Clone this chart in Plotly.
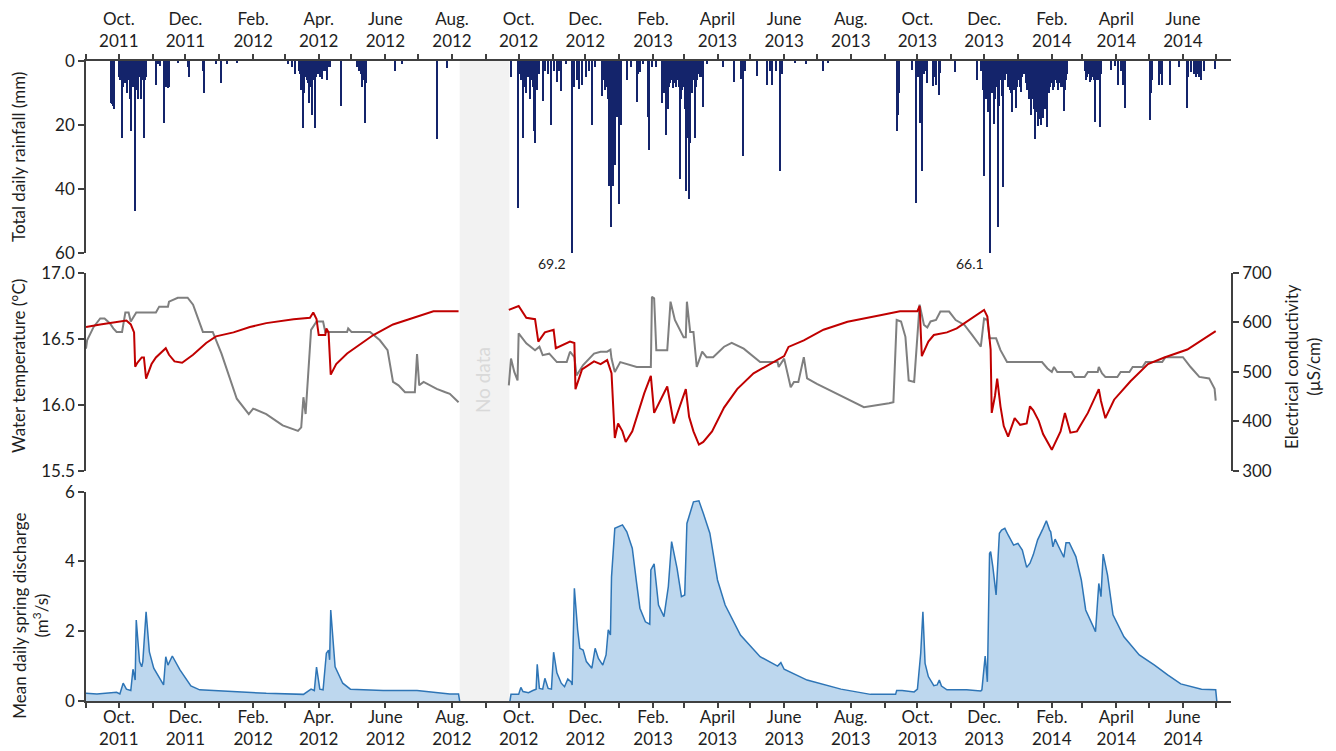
import plotly.graph_objects as go

# ---------------- data ----------------
rain_dates = [
    "2011-09-24","2011-09-25","2011-09-26","2011-09-27",
    "2011-10-01","2011-10-02","2011-10-04","2011-10-05","2011-10-07","2011-10-09","2011-10-11","2011-10-12","2011-10-14","2011-10-16","2011-10-18","2011-10-19","2011-10-21","2011-10-23","2011-10-24","2011-10-26",
    "2011-10-03","2011-10-06","2011-10-08","2011-10-10","2011-10-13","2011-10-15","2011-10-17","2011-10-20","2011-10-22","2011-10-25",
    "2011-11-04","2011-11-06","2011-11-08","2011-11-11","2011-11-13","2011-11-15","2011-11-16","2011-11-24",
    "2011-12-03","2011-12-04","2011-12-17","2011-12-18","2011-12-29",
    "2012-01-03","2012-01-08","2012-01-17",
    "2012-03-04","2012-03-08","2012-03-10","2012-03-14","2012-03-16","2012-03-18","2012-03-19","2012-03-21","2012-03-23","2012-03-25","2012-03-26","2012-03-28","2012-03-29","2012-03-31",
    "2012-03-15","2012-03-17","2012-03-20","2012-03-22","2012-03-24","2012-03-27","2012-03-30",
    "2012-04-02","2012-04-04","2012-04-06","2012-04-07","2012-04-09","2012-04-11","2012-04-21",
    "2012-04-01","2012-04-03","2012-04-05","2012-04-08","2012-04-10",
    "2012-05-06","2012-05-08","2012-05-10","2012-05-11","2012-05-12","2012-05-13","2012-05-14",
    "2012-06-10","2012-06-16","2012-07-18","2012-07-27",
    "2012-09-24","2012-09-30",
    "2012-10-01","2012-10-03","2012-10-05","2012-10-06","2012-10-08","2012-10-10","2012-10-11","2012-10-13","2012-10-15","2012-10-16","2012-10-18","2012-10-20","2012-10-23","2012-10-25","2012-10-28","2012-10-31",
    "2012-10-02","2012-10-04","2012-10-07","2012-10-09","2012-10-12","2012-10-14","2012-10-17",
    "2012-11-02","2012-11-05","2012-11-07","2012-11-09","2012-11-13","2012-11-19","2012-11-21","2012-11-23","2012-11-25","2012-11-28",
    "2012-12-02","2012-12-04","2012-12-07","2012-12-10","2012-12-16","2012-12-17","2012-12-19","2012-12-20","2012-12-22","2012-12-23","2012-12-24","2012-12-25","2012-12-26","2012-12-27","2012-12-28","2012-12-30","2012-12-31",
    "2012-12-18","2012-12-21","2012-12-29",
    "2013-01-01","2013-01-02","2013-01-03","2013-01-08","2013-01-12","2013-01-17","2013-01-18","2013-01-20","2013-01-23","2013-01-27","2013-01-28","2013-01-31",
    "2013-02-04","2013-02-09","2013-02-10","2013-02-11","2013-02-13","2013-02-14","2013-02-15","2013-02-16","2013-02-19","2013-02-21","2013-02-22","2013-02-26","2013-02-27",
    "2013-02-12","2013-02-17","2013-02-18","2013-02-20","2013-02-23","2013-02-24","2013-02-25","2013-02-28",
    "2013-03-02","2013-03-03","2013-03-04","2013-03-05","2013-03-06","2013-03-07","2013-03-09","2013-03-11","2013-03-13","2013-03-14","2013-03-16","2013-03-19","2013-03-22",
    "2013-03-01","2013-03-08","2013-03-10","2013-03-12","2013-03-15","2013-03-17","2013-03-18",
    "2013-04-06","2013-04-16","2013-04-23","2013-04-24","2013-04-26",
    "2013-05-07","2013-05-16","2013-05-19","2013-05-21","2013-05-25","2013-05-28","2013-05-30",
    "2013-06-11","2013-06-21","2013-07-07","2013-07-11",
    "2013-09-12","2013-09-13","2013-09-14","2013-09-26","2013-09-30",
    "2013-10-01","2013-10-02","2013-10-03","2013-10-04","2013-10-05","2013-10-07","2013-10-09","2013-10-10","2013-10-15","2013-10-16","2013-10-18","2013-10-21","2013-10-22",
    "2013-11-04","2013-11-25","2013-11-28","2013-11-30",
    "2013-12-01","2013-12-03","2013-12-05","2013-12-06","2013-12-08","2013-12-10","2013-12-11","2013-12-13","2013-12-14","2013-12-15","2013-12-17","2013-12-18","2013-12-20","2013-12-21","2013-12-25","2013-12-27","2013-12-30",
    "2013-12-02","2013-12-04","2013-12-07","2013-12-09","2013-12-12","2013-12-16","2013-12-19","2013-12-22","2013-12-23","2013-12-24","2013-12-26","2013-12-28","2013-12-29","2013-12-31",
    "2014-01-01","2014-01-04","2014-01-06","2014-01-10","2014-01-11","2014-01-13","2014-01-14","2014-01-15","2014-01-17","2014-01-18","2014-01-19","2014-01-20","2014-01-22","2014-01-23","2014-01-24","2014-01-25","2014-01-26","2014-01-28","2014-01-29",
    "2014-01-02","2014-01-03","2014-01-05","2014-01-07","2014-01-08","2014-01-09","2014-01-12","2014-01-16","2014-01-21","2014-01-27","2014-01-30","2014-01-31",
    "2014-02-02","2014-02-04","2014-02-06","2014-02-07","2014-02-09","2014-02-12","2014-02-13","2014-02-15",
    "2014-02-01","2014-02-03","2014-02-05","2014-02-08","2014-02-10","2014-02-11","2014-02-14",
    "2014-03-03","2014-03-04","2014-03-06","2014-03-08","2014-03-10","2014-03-12","2014-03-13","2014-03-15","2014-03-17","2014-03-18","2014-03-27","2014-03-31",
    "2014-03-05","2014-03-07","2014-03-09","2014-03-11","2014-03-14","2014-03-16",
    "2014-04-03","2014-04-05","2014-04-07","2014-04-09",
    "2014-05-02","2014-05-03","2014-05-04","2014-05-10","2014-05-12","2014-05-13","2014-05-20","2014-05-28",
    "2014-06-05","2014-06-06","2014-06-08","2014-06-11","2014-06-13","2014-06-15","2014-06-16","2014-06-18","2014-06-20","2014-06-30",
]
rain_mm = [
    13,13.5,14,15,
    5,6,24,8,7,10,12,22,8,47,9,12,12,6,24,5,
    6,5,7,6,5,8,6,5,4,6,
    7.5,1,1.5,19.3,8,8.5,8,0.5,
    2,5,3,10,1,
    7,1,0.7,
    1,2,4,3,9,21,10,6,13,8,17,5,21,4,
    4,6,5,7,4,6,5,
    5,5.5,3,2,6,2,14,
    3,4,2,3,2,
    2,3,4,8,6,19.4,7,
    3,1,24.4,2.3,
    5,46,
    3,6,24,8,10,5,12,6,21.8,25.5,9,4,12.5,3,4,20,
    4,5,6,4,5,8,6,
    3,6.5,3,9.3,1,69.2,8,6,8.6,7.5,
    5,3,20,2,11,6,9,5.6,12,39,25,51.8,39,14,32.5,17.4,10,
    5,8,12,
    44.7,12,20,6,2,12.7,4,3.3,1,17.4,27.8,2,
    2,13,8,10,23,9,15,8,8.5,6,8,37,12,
    8,7,6,7,6,5,8,9,
    15,40.5,24,17,43,25.6,10,24,6,3.3,5,14.3,1,
    8,7,6,8,4,5,3,
    2,6.5,5.7,29.6,3,
    4.7,7.5,3,7.5,3,34.4,4,
    0.5,1,3,0.5,
    21.9,16.9,9.9,2.8,44.3,
    3.3,5,19.5,6,34.3,4,3,7,7.8,5,7.5,10.6,3.8,
    3.3,6,3,9,
    36,12,16,66.1,10,19.8,12,8,52,14,11,39.5,6,3,9,15.8,14.8,
    8,7,9,6,7,6,5,4,8,7,10,9,6,8,
    5,9.6,4,6,12,17,8,12,24.4,16,20.3,14,20,13,17.8,12,15,20.5,10,
    6,8,5,4,7,9,10,15,18,14,8,7,
    9,4,7,9,8,15.6,9,4,
    5,8,6,7,5,8,6,
    3,6,4,6.5,5,6,19,6,20.5,4,2.8,1.5,
    5,4,6,5,6,5,
    7.5,3,7.5,14.8,
    18.4,10,6,7.5,4,7.5,7.5,1.8,
    14.8,5,3.3,4,5,4,5,6,3,2.6,
]

temp_dates = [
    "2011-09-01","2011-09-14","2011-10-08","2011-10-12","2011-10-15","2011-10-16","2011-10-18","2011-10-22","2011-10-24","2011-10-26","2011-10-31",
    "2011-11-04","2011-11-13","2011-11-16","2011-11-21","2011-11-28","2011-12-08","2011-12-20","2011-12-29",
    "2012-01-14","2012-01-29","2012-02-13","2012-03-09","2012-03-24","2012-03-27","2012-03-30","2012-04-01","2012-04-07","2012-04-08","2012-04-10","2012-04-12","2012-04-17","2012-04-27",
    "2012-05-09","2012-05-21","2012-06-08","2012-06-30","2012-07-15","2012-07-30","2012-08-07",
    "2012-08-20",
    "2012-09-22","2012-10-01","2012-10-08","2012-10-16","2012-10-19","2012-10-25","2012-11-02","2012-11-04","2012-11-17","2012-11-21","2012-11-22","2012-11-28",
    "2012-12-09","2012-12-15","2012-12-21","2012-12-25","2012-12-28","2012-12-31","2013-01-04","2013-01-07","2013-01-13","2013-01-24","2013-01-30","2013-01-31",
    "2013-02-02","2013-02-14","2013-02-20","2013-03-03","2013-03-06","2013-03-10","2013-03-15","2013-03-19","2013-03-27","2013-04-07","2013-04-19",
    "2013-05-04","2013-05-23","2013-06-01","2013-06-05","2013-06-19","2013-07-07","2013-07-29","2013-08-28","2013-09-15",
    "2013-10-01","2013-10-03","2013-10-05","2013-10-11","2013-10-16","2013-10-28","2013-11-06","2013-11-18","2013-12-01","2013-12-04","2013-12-07","2013-12-08","2013-12-11","2013-12-13","2013-12-16","2013-12-19","2013-12-23","2013-12-29",
    "2014-01-03","2014-01-09","2014-01-12","2014-01-15","2014-01-20","2014-01-24","2014-02-01","2014-02-09","2014-02-13","2014-02-18","2014-02-24",
    "2014-03-06","2014-03-16","2014-03-18","2014-03-22","2014-03-30","2014-04-14","2014-04-30","2014-05-15","2014-06-05","2014-07-01",
]
temp_c = [
    16.59,16.61,16.64,16.61,16.55,16.29,16.32,16.36,16.36,16.20,16.31,
    16.36,16.43,16.38,16.33,16.32,16.38,16.47,16.52,
    16.55,16.59,16.62,16.65,16.66,16.70,16.65,16.53,16.53,16.58,16.55,16.23,16.31,16.39,
    16.46,16.53,16.61,16.67,16.71,16.71,16.71,
    None,
    16.72,16.75,16.66,16.65,16.48,16.55,16.57,16.43,16.48,16.47,16.12,16.27,
    16.33,16.31,16.34,16.24,15.75,15.86,15.80,15.72,15.80,16.09,16.22,16.14,
    15.94,16.14,15.86,16.12,15.91,15.80,15.70,15.72,15.80,15.98,16.12,
    16.24,16.33,16.37,16.44,16.49,16.57,16.63,16.68,16.71,
    16.71,16.75,16.37,16.48,16.53,16.55,16.58,16.65,16.72,16.67,16.42,15.94,16.07,16.20,15.99,15.84,15.76,15.90,
    15.85,15.86,15.99,15.96,15.88,15.78,15.66,15.80,15.94,15.79,15.80,
    15.94,16.12,16.03,15.90,16.04,16.18,16.31,16.36,16.42,16.56,
]

ec_dates = [
    "2011-09-01","2011-09-02","2011-09-08","2011-09-14","2011-09-18","2011-09-23","2011-09-26","2011-09-29","2011-10-04","2011-10-07","2011-10-10","2011-10-12","2011-10-17",
    "2011-11-04","2011-11-07","2011-11-15","2011-11-16","2011-11-24","2011-12-03","2011-12-08","2011-12-17","2011-12-26",
    "2012-01-03","2012-01-11","2012-01-17","2012-01-28","2012-02-01","2012-02-13","2012-02-28","2012-03-13","2012-03-16","2012-03-18","2012-03-20","2012-03-25","2012-03-30",
    "2012-04-05","2012-04-07","2012-04-27","2012-04-28","2012-05-01","2012-05-18","2012-05-27","2012-06-03","2012-06-08","2012-06-13","2012-06-19","2012-06-28","2012-06-30",
    "2012-07-02","2012-07-06","2012-07-18","2012-07-26","2012-07-30","2012-08-07",
    "2012-08-20",
    "2012-09-22","2012-09-24","2012-09-27","2012-09-30","2012-10-01","2012-10-08","2012-10-16","2012-10-20","2012-10-23","2012-10-29",
    "2012-11-05","2012-11-14","2012-11-17","2012-11-21","2012-11-23","2012-11-29","2012-12-09","2012-12-15","2012-12-21","2012-12-24","2012-12-25","2012-12-28",
    "2013-01-02","2013-01-17","2013-01-30","2013-01-31","2013-02-02","2013-02-04","2013-02-14","2013-02-17","2013-02-21","2013-02-26",
    "2013-03-01","2013-03-03","2013-03-04","2013-03-07","2013-03-10","2013-03-13","2013-03-18","2013-03-22","2013-03-28",
    "2013-04-07","2013-04-14","2013-04-25","2013-05-04","2013-05-10","2013-05-26","2013-05-27","2013-06-01","2013-06-07","2013-06-10","2013-06-14","2013-06-19","2013-06-22",
    "2013-07-01","2013-07-13","2013-07-29","2013-08-13","2013-09-05","2013-09-09","2013-09-12","2013-09-16","2013-09-20","2013-09-23","2013-09-28",
    "2013-10-01","2013-10-03","2013-10-07","2013-10-10","2013-10-13","2013-10-18","2013-10-22","2013-10-30","2013-11-05","2013-11-13","2013-11-20","2013-11-28",
    "2013-12-01","2013-12-04","2013-12-06","2013-12-12","2013-12-16","2013-12-22",
    "2014-01-23","2014-01-28","2014-02-01","2014-02-03","2014-02-06","2014-02-19","2014-02-22","2014-03-03","2014-03-06","2014-03-15","2014-03-16","2014-03-19","2014-03-22",
    "2014-04-02","2014-04-05","2014-04-13","2014-04-16","2014-04-25","2014-04-28","2014-05-13","2014-05-16","2014-06-01","2014-06-08","2014-06-16","2014-06-25","2014-06-30","2014-07-01",
]
ec_us = [
    547,564,591,608,608,598,588,581,581,620,620,602,620,
    620,632,632,642,650,650,636,581,581,
    537,487,446,415,426,415,392,381,388,449,415,585,602,
    602,581,581,588,581,581,564,544,480,473,459,459,536,
    473,480,466,459,456,439,
    None,
    473,527,500,483,578,558,544,551,534,537,
    520,520,541,530,493,514,537,541,541,545,527,500,
    520,510,510,652,649,544,544,642,605,585,
    570,570,642,581,581,510,541,530,530,
    551,559,547,530,520,520,510,527,469,480,480,530,487,
    476,463,446,429,437,439,605,602,571,483,480,
    585,636,595,590,602,605,622,622,605,595,575,551,
    608,605,568,568,544,520,
    520,507,500,510,500,500,490,490,500,500,510,497,490,
    490,500,500,510,510,520,520,530,530,510,490,487,466,442,
]

q_dates = [
    "2011-09-01","2011-09-11","2011-09-29","2011-10-02","2011-10-05","2011-10-08","2011-10-12","2011-10-14","2011-10-16","2011-10-17","2011-10-20","2011-10-22","2011-10-23","2011-10-26","2011-10-29",
    "2011-11-02","2011-11-11","2011-11-13","2011-11-15","2011-11-19","2011-11-26","2011-12-06","2011-12-14",
    "2012-01-14","2012-02-13","2012-03-18","2012-03-25","2012-03-28","2012-03-30","2012-04-02","2012-04-05","2012-04-08","2012-04-10","2012-04-11","2012-04-12","2012-04-16","2012-04-23","2012-04-30",
    "2012-05-30","2012-06-30","2012-07-30","2012-08-07","2012-08-08",
    "2012-08-20",
    "2012-09-23","2012-09-24","2012-10-01","2012-10-03","2012-10-05","2012-10-10","2012-10-14","2012-10-17","2012-10-18","2012-10-20","2012-10-23","2012-10-25","2012-10-28","2012-10-31",
    "2012-11-02","2012-11-05","2012-11-09","2012-11-12","2012-11-15","2012-11-18","2012-11-19","2012-11-21","2012-11-24","2012-11-26","2012-11-29",
    "2012-12-02","2012-12-07","2012-12-10","2012-12-13","2012-12-17","2012-12-20","2012-12-22","2012-12-24","2012-12-25","2012-12-28","2012-12-31",
    "2013-01-04","2013-01-08","2013-01-13","2013-01-17","2013-01-20","2013-01-25","2013-01-29","2013-01-30",
    "2013-02-02","2013-02-06","2013-02-11","2013-02-15","2013-02-18","2013-02-23","2013-02-27",
    "2013-03-02","2013-03-04","2013-03-10","2013-03-15","2013-03-19","2013-03-25","2013-04-01","2013-04-08","2013-04-22",
    "2013-05-10","2013-05-26","2013-05-29","2013-06-01","2013-06-22","2013-07-23","2013-08-19","2013-09-11","2013-09-12","2013-09-17","2013-09-28",
    "2013-10-01","2013-10-04","2013-10-06","2013-10-08","2013-10-11","2013-10-16","2013-10-19","2013-10-21","2013-10-23","2013-10-28","2013-11-15","2013-11-28","2013-11-29",
    "2013-12-02","2013-12-04","2013-12-06","2013-12-07","2013-12-09","2013-12-12","2013-12-15","2013-12-17","2013-12-20","2013-12-23","2013-12-28",
    "2014-01-01","2014-01-05","2014-01-09","2014-01-12","2014-01-15","2014-01-19","2014-01-24","2014-01-27","2014-01-30","2014-01-31",
    "2014-02-02","2014-02-04","2014-02-08","2014-02-12","2014-02-14","2014-02-17","2014-02-23","2014-02-28",
    "2014-03-04","2014-03-10","2014-03-13","2014-03-16","2014-03-18","2014-03-20","2014-03-24","2014-03-29",
    "2014-04-08","2014-04-22","2014-05-06","2014-05-18","2014-05-30","2014-06-18","2014-07-01","2014-07-02",
]
q_m3s = [
    0.22,0.20,0.25,0.20,0.51,0.34,0.30,0.91,0.60,2.32,1.13,0.98,1.13,2.56,1.41,
    0.94,0.46,1.27,1.03,1.29,0.89,0.43,0.32,
    0.27,0.22,0.19,0.34,0.30,0.97,0.34,0.32,1.37,1.46,1.18,2.61,0.98,0.51,0.34,
    0.30,0.30,0.20,0.20,0,
    None,
    0,0.19,0.19,0.39,0.27,0.24,0.30,0.34,1.05,0.36,0.34,0.65,0.36,0.34,
    1.40,0.81,0.51,0.41,0.63,0.55,0.46,3.23,2.04,1.51,1.46,
    1.13,0.94,1.51,1.22,1.03,1.32,2.04,1.89,3.56,4.95,5.00,
    5.05,4.85,4.38,3.37,2.66,2.27,2.20,3.76,
    3.93,2.75,2.42,3.28,4.57,3.80,2.99,
    3.04,5.09,5.71,5.74,5.38,4.81,3.47,2.75,1.89,
    1.27,1.00,1.10,0.91,0.60,0.34,0.19,0.19,0.30,0.30,0.26,
    0.34,1.37,2.56,1.08,0.70,0.44,0.46,0.60,0.43,0.32,0.32,0.29,0.32,
    1.29,0.55,4.23,4.28,3.85,3.04,4.81,4.90,4.95,4.76,4.47,
    4.52,4.33,3.83,3.95,4.19,4.62,4.95,5.17,4.90,4.85,
    4.42,4.64,4.38,4.12,4.54,4.54,4.14,3.47,
    2.61,2.18,1.99,3.37,2.99,4.21,3.61,2.47,
    1.84,1.32,1.03,0.75,0.49,0.34,0.32,0,
]

tick_dates = [
    "2011-09-01","2011-10-01","2011-11-01","2011-12-01","2012-01-01","2012-02-01","2012-03-01","2012-04-01","2012-05-01","2012-06-01","2012-07-01","2012-08-01",
    "2012-09-01","2012-10-01","2012-11-01","2012-12-01","2013-01-01","2013-02-01","2013-03-01","2013-04-01","2013-05-01","2013-06-01","2013-07-01","2013-08-01",
    "2013-09-01","2013-10-01","2013-11-01","2013-12-01","2014-01-01","2014-02-01","2014-03-01","2014-04-01","2014-05-01","2014-06-01","2014-07-01",
]
tick_labels = [
    "","Oct.<br>2011","","Dec.<br>2011","","Feb.<br>2012","","Apr.<br>2012","","June<br>2012","","Aug.<br>2012",
    "","Oct.<br>2012","","Dec.<br>2012","","Feb.<br>2013","","April<br>2013","","June<br>2013","","Aug.<br>2013",
    "","Oct.<br>2013","","Dec.<br>2013","","Feb.<br>2014","","April<br>2014","","June<br>2014","",
]

assert len(rain_dates) == len(rain_mm)
assert len(temp_dates) == len(temp_c)
assert len(ec_dates) == len(ec_us)
assert len(q_dates) == len(q_m3s)
assert len(tick_dates) == len(tick_labels)

x_range = ["2011-09-01", "2014-07-15"]
no_data = ["2012-08-08", "2012-09-22 12:00"]
peak_labels = [("2012-11-19", "69.2"), ("2013-12-06", "66.1")]

# ---------------- styling ----------------
FONT = "Lato"
TXT = "#1e1e1e"
AX = "#404040"
NAVY = "#14246b"
TICKF = dict(family=FONT, size=17, color=TXT)
W, H = 1336, 751

fig = go.Figure()
fig.add_trace(go.Bar(x=rain_dates, y=rain_mm, xaxis="x", yaxis="y",
                     marker=dict(color=NAVY, line=dict(width=0)),
                     width=86400000 * 1.0, showlegend=False))
fig.add_trace(go.Scatter(x=ec_dates, y=ec_us, xaxis="x2", yaxis="y2", mode="lines",
                         line=dict(color="#7f7f7f", width=2), showlegend=False))
fig.add_trace(go.Scatter(x=temp_dates, y=temp_c, xaxis="x2", yaxis="y3", mode="lines",
                         line=dict(color="#c00000", width=2), showlegend=False))
fig.add_trace(go.Scatter(x=q_dates, y=q_m3s, xaxis="x3", yaxis="y4", mode="lines",
                         fill="tozeroy", fillcolor="#bdd7ee",
                         line=dict(color="#2e75b6", width=1.5), showlegend=False))

xcommon = dict(type="date", range=x_range, domain=[0, 1], tickmode="array",
               tickvals=tick_dates, ticktext=tick_labels, showline=True,
               linecolor=AX, linewidth=1.5, ticks="outside", tickcolor=AX,
               tickwidth=1.5, ticklen=5, showgrid=False, zeroline=False,
               tickfont=TICKF, fixedrange=True, automargin=False)
ycommon = dict(showline=True, linecolor=AX, linewidth=1.5, ticks="outside",
               tickcolor=AX, tickwidth=1.5, ticklen=6, showgrid=False,
               zeroline=False, tickfont=TICKF, tickmode="array", automargin=False)

fig.update_layout(
    width=W, height=H, autosize=False,
    margin=dict(l=86, r=105, t=61, b=50),
    paper_bgcolor="white", plot_bgcolor="rgba(0,0,0,0)",
    font=dict(family=FONT, color=TXT),
    bargap=0,
    xaxis=dict(**xcommon, anchor="y", side="top"),
    xaxis2=dict(type="date", range=x_range, domain=[0, 1], anchor="y2", visible=False),
    xaxis3=dict(**xcommon, anchor="y4", side="bottom", ticklabelstandoff=-5),
    yaxis=dict(**ycommon, domain=[0.700, 1.0], range=[60, 0], anchor="x",
               tickvals=[0, 20, 40, 60]),
    yaxis2=dict(**ycommon, domain=[0.3594, 0.6688], range=[300, 700], anchor="x2",
                side="right", tickvals=[300, 400, 500, 600, 700]),
    yaxis3=dict(**ycommon, range=[15.5, 17.0], anchor="x2", side="left",
                overlaying="y2", tickvals=[15.5, 16.0, 16.5, 17.0], tickformat=".1f"),
    yaxis4=dict(**ycommon, domain=[0, 0.327], range=[0, 6], anchor="x3",
                tickvals=[0, 2, 4, 6]),
)

fig.add_shape(type="rect", xref="x", yref="paper", x0=no_data[0], x1=no_data[1],
              y0=0, y1=1, fillcolor="#f2f2f2", line=dict(width=0), layer="below")

ann = []
ann.append(dict(text="No data", xref="x", yref="paper", x="2012-08-29 12:00", y=0.5016,
                xanchor="center", yanchor="middle",
                textangle=-90, showarrow=False, font=dict(family=FONT, size=19, color="#d9d9d9")))
for d, t in peak_labels:
    ann.append(dict(text=t, xref="x", yref="y", x=d, y=60, xanchor="right", yanchor="top",
                    xshift=-4, showarrow=False, font=dict(family=FONT, size=14, color=TXT)))
TITLEF = dict(family=FONT, size=17, color=TXT)
titles = [
    ("Total daily rainfall (mm)", -0.0594, 0.85),
    ("Water temperature (°C)", -0.0594, 0.5234),
    ("Mean daily spring discharge<br>(m<sup>3</sup>/s)", -0.0485, 0.134),
    ("Electrical conductivity<br>(µS/cm)", 1.062, 0.5234),
]
for t, x, y in titles:
    ann.append(dict(text=t, xref="paper", yref="paper", x=x, y=y, xanchor="center",
                    yanchor="middle", textangle=-90, showarrow=False, font=TITLEF))
fig.update_layout(annotations=ann)

post = ("document.documentElement.style.margin='0';document.body.style.margin='0';"
        "document.body.style.overflow='hidden';"
        "var gd=document.getElementById('{plot_id}');"
        "gd.style.width='%dpx';gd.style.height='%dpx';"
        "Plotly.relayout(gd,{width:%d,height:%d});" % (W, H, W, H))
fig.write_html("out.html", config={"displayModeBar": False, "responsive": False},
               post_script=post)
